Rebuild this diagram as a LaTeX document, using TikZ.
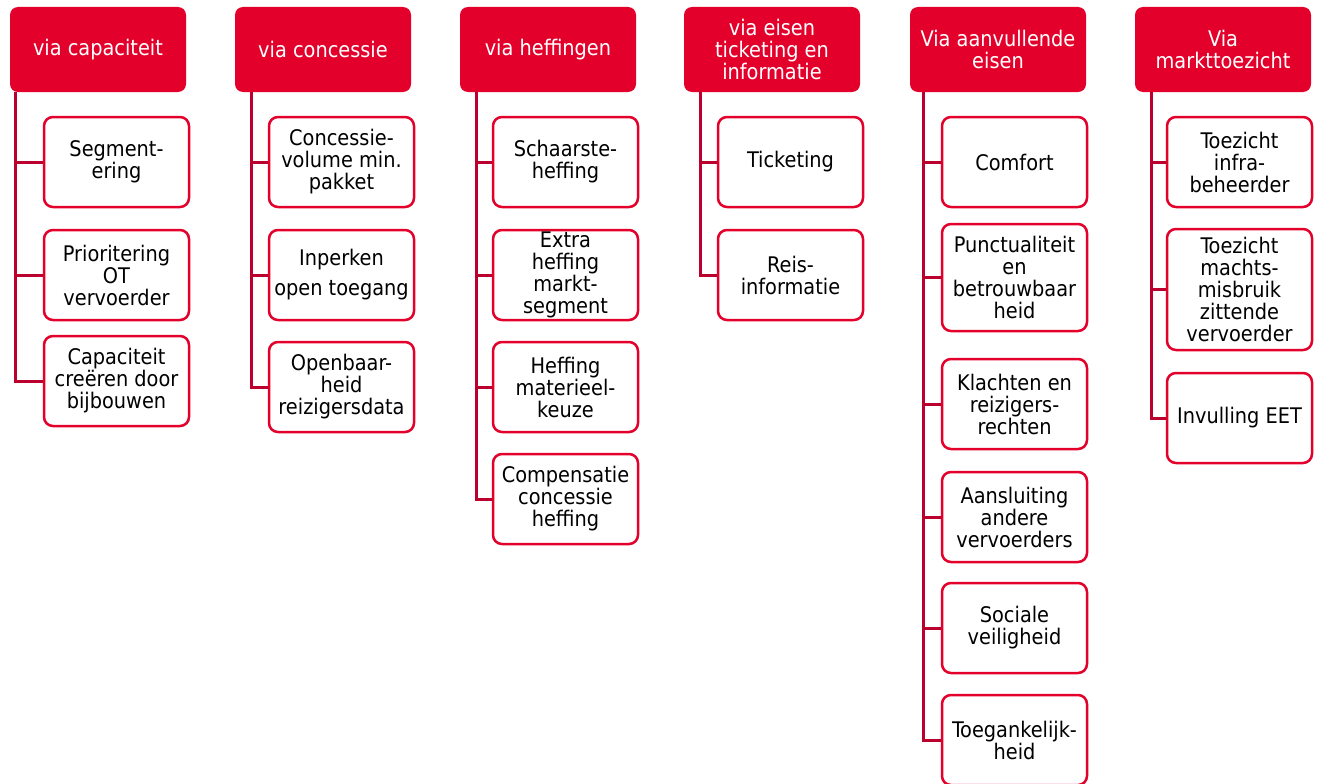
\documentclass[tikz,border=0pt]{standalone}
\usepackage{fontspec}
\setmainfont{DejaVu Sans Condensed}
\definecolor{kopred}{RGB}{227,0,43}
\definecolor{takred}{RGB}{188,0,45}
\tikzset{
    kop/.style={fill=kopred, rounded corners=8pt, minimum width=176pt, minimum height=85pt,
        inner sep=0pt, align=center, text=white, font=\fontsize{21.5}{21.7}\selectfont},
    blok/.style={draw=kopred, line width=2.5pt, fill=white, rounded corners=9pt, minimum width=145pt,
        minimum height=90pt, inner sep=0pt, align=center, font=\fontsize{21.5}{22}\selectfont},
    tak/.style={draw=takred, line width=3pt}
}
\begin{document}
\begin{tikzpicture}[x=1pt, y=-1pt]
    \useasboundingbox (0,0) rectangle (1317,784);
    \foreach \n/\x/\txt in {1/98/{via capaciteit}, 2/323/{via concessie}, 3/548/{via heffingen},
        4/772/{via eisen\\ticketing en\\informatie}, 5/998/{Via aanvullende\\eisen}, 6/1223/{Via\\markttoezicht}}{
        \node[kop] (h\n) at (\x,49.5) {\txt};}
    \node[blok] (c11) at (116.5,162) {Segment-\\ering};
    \node[blok] (c12) at (116.5,275) {Prioritering\\OT\\vervoerder};
    \node[blok] (c13) at (116.5,381) {Capaciteit\\creëren door\\bijbouwen};
    \node[blok] (c21) at (341.5,162) {Concessie-\\volume min.\\pakket};
    \node[blok] (c22) at (341.5,275) {Inperken\\[8pt]open toegang};
    \node[blok] (c23) at (341.5,387) {Openbaar-\\heid\\reizigersdata};
    \node[blok] (c31) at (565.5,162) {Schaarste-\\heffing};
    \node[blok] (c32) at (565.5,275) {Extra\\heffing\\markt-\\segment};
    \node[blok] (c33) at (565.5,387) {Heffing\\materieel-\\keuze};
    \node[blok] (c34) at (565.5,499) {Compensatie\\concessie\\heffing};
    \node[blok] (c41) at (790.5,162) {Ticketing};
    \node[blok] (c42) at (790.5,275) {Reis-\\informatie};
    \node[blok] (c51) at (1014.5,162) {Comfort};
    \node[blok, minimum height=107pt] (c52) at (1014.5,277.5) {Punctualiteit\\en\\betrouwbaar\\heid};
    \node[blok] (c53) at (1014.5,404) {Klachten en\\reizigers-\\rechten};
    \node[blok] (c54) at (1014.5,517) {Aansluiting\\andere\\vervoerders};
    \node[blok] (c55) at (1014.5,628) {Sociale\\veiligheid};
    \node[blok] (c56) at (1014.5,740) {Toegankelijk-\\heid};
    \node[blok] (c61) at (1239.5,162) {Toezicht\\infra-\\beheerder};
    \node[blok, minimum height=121pt] (c62) at (1239.5,289.5) {Toezicht\\machts-\\misbruik\\zittende\\vervoerder};
    \node[blok] (c63) at (1239.5,418) {Invulling EET};
    \foreach \n/\off in {1/6, 2/17, 3/17, 4/17, 5/14, 6/17}{
        \coordinate (t\n) at ([xshift=\off pt]h\n.south west);}
    \foreach \t/\c in {t1/c13, t2/c23, t3/c34, t4/c42, t5/c56, t6/c63}{
        \draw[tak] (\t) |- (\c.west);}
    \foreach \t/\c in {t1/c11, t1/c12, t2/c21, t2/c22, t3/c31, t3/c32, t3/c33, t4/c41,
        t5/c51, t5/c52, t5/c53, t5/c54, t5/c55, t6/c61, t6/c62}{
        \draw[tak] (\t |- \c.west) -- (\c.west);}
\end{tikzpicture}
\end{document}
